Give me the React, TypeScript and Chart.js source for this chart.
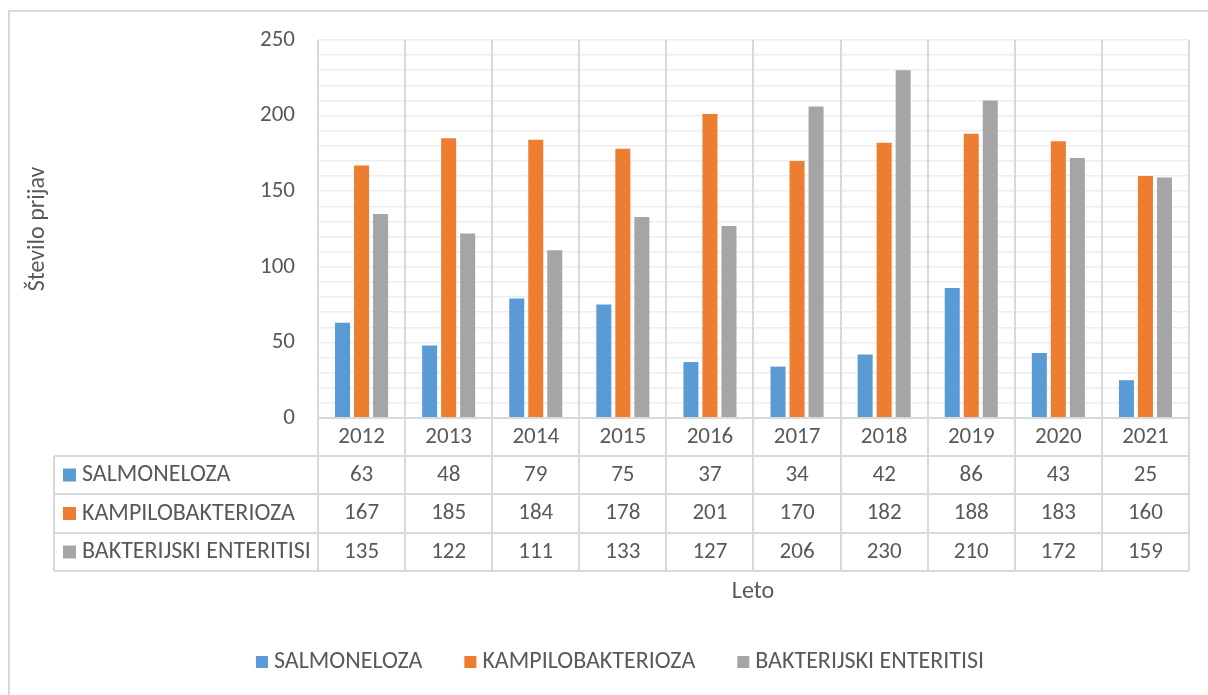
import React, { useEffect, useRef } from "react";
import { Chart, registerables } from "chart.js";

Chart.register(...registerables);

const years = ["2012", "2013", "2014", "2015", "2016", "2017", "2018", "2019", "2020", "2021"];
const salmoneloza = [63, 48, 79, 75, 37, 34, 42, 86, 43, 25];
const kampilobakterioza = [167, 185, 184, 178, 201, 170, 182, 188, 183, 160];
const bakterijski = [135, 122, 111, 133, 127, 206, 230, 210, 172, 159];
const seriesNames = ["SALMONELOZA", "KAMPILOBAKTERIOZA", "BAKTERIJSKI ENTERITISI"];
const seriesColors = ["#5b9bd5", "#ed7d31", "#a5a5a5"];
const yTitle = "Število prijav";
const xTitle = "Leto";

const FONT = "Carlito, Lato, sans-serif";
const TEXT = "#595959";
const LINE = "#d9d9d9";
const NUM_FONT = `23px ${FONT}`;
const LABEL_FONT = `24px ${FONT}`;

const tablePlugin = {
  id: "tablePlugin",
  beforeDatasetsDraw(chart: any) {
    const { ctx, chartArea, scales } = chart;
    const xs = scales.x;
    const n = years.length;
    const w = n > 1 ? xs.getPixelForValue(1) - xs.getPixelForValue(0) : chartArea.width;
    const tableBottom = 571;
    ctx.save();
    ctx.strokeStyle = LINE;
    ctx.lineWidth = 2;
    for (let i = 0; i <= n; i++) {
      const x = Math.round(xs.getPixelForValue(0) - w / 2 + i * w);
      ctx.beginPath();
      ctx.moveTo(x, chartArea.top);
      ctx.lineTo(x, tableBottom);
      ctx.stroke();
    }
    ctx.restore();
  },
  afterDraw(chart: any) {
    const { ctx, chartArea, scales } = chart;
    const xs = scales.x;
    const n = years.length;
    const w = xs.getPixelForValue(1) - xs.getPixelForValue(0);
    const left = Math.round(xs.getPixelForValue(0) - w / 2);
    const right = Math.round(xs.getPixelForValue(0) - w / 2 + n * w);
    const tableLeft = 54;
    const rowLines = [456, 494, 533, 571];
    ctx.save();
    // outer border
    ctx.strokeStyle = LINE;
    ctx.lineWidth = 2;
    ctx.beginPath();
    ctx.moveTo(9, 740);
    ctx.lineTo(9, 11);
    ctx.lineTo(1240, 11);
    ctx.stroke();
    // table horizontal lines
    rowLines.forEach((y) => {
      ctx.beginPath();
      ctx.moveTo(tableLeft, y);
      ctx.lineTo(right, y);
      ctx.stroke();
    });
    ctx.beginPath();
    ctx.moveTo(tableLeft, rowLines[0]);
    ctx.lineTo(tableLeft, rowLines[3]);
    ctx.stroke();
    // zero axis line
    ctx.beginPath();
    ctx.moveTo(left, chartArea.bottom);
    ctx.lineTo(right, chartArea.bottom);
    ctx.stroke();

    ctx.fillStyle = TEXT;
    ctx.textBaseline = "middle";
    ctx.textAlign = "center";
    // year row
    ctx.font = NUM_FONT;
    const yearY = (chartArea.bottom + rowLines[0]) / 2;
    years.forEach((yr, i) => {
      ctx.fillText(yr, xs.getPixelForValue(i), yearY);
    });
    const all = [salmoneloza, kampilobakterioza, bakterijski];
    all.forEach((vals, r) => {
      const cy = (rowLines[r] + rowLines[r + 1]) / 2;
      ctx.textAlign = "center";
      ctx.fillStyle = TEXT;
      ctx.font = NUM_FONT;
      vals.forEach((v, i) => ctx.fillText(String(v), xs.getPixelForValue(i), cy));
      ctx.fillStyle = seriesColors[r];
      ctx.fillRect(63, cy - 6.5, 13, 13);
      ctx.fillStyle = TEXT;
      ctx.textAlign = "left";
      ctx.font = LABEL_FONT;
      ctx.fillText(seriesNames[r], 82, cy);
    });
    // axis titles
    ctx.font = LABEL_FONT;
    ctx.textAlign = "center";
    ctx.fillText(xTitle, 753, 592);
    ctx.save();
    ctx.translate(38, 229);
    ctx.rotate(-Math.PI / 2);
    ctx.fillText(yTitle, 0, 0);
    ctx.restore();
    // legend
    const box = 12;
    const gapBoxText = 6;
    const gapItems = 42;
    const widths = seriesNames.map((s) => box + gapBoxText + ctx.measureText(s).width);
    const total = widths.reduce((a, b) => a + b, 0) + gapItems * (widths.length - 1);
    let lx = 620 - total / 2;
    const ly = 662;
    seriesNames.forEach((s, i) => {
      ctx.fillStyle = seriesColors[i];
      ctx.fillRect(lx, ly - box / 2, box, box);
      ctx.fillStyle = TEXT;
      ctx.textAlign = "left";
      ctx.fillText(s, lx + box + gapBoxText, ly);
      lx += widths[i] + gapItems;
    });
    ctx.restore();
  },
};

export default function App() {
  const ref = useRef<HTMLCanvasElement | null>(null);
  useEffect(() => {
    if (!ref.current) return;
    const chart = new Chart(ref.current, {
      type: "bar",
      data: {
        labels: years,
        datasets: [salmoneloza, kampilobakterioza, bakterijski].map((d, i) => ({
          label: seriesNames[i],
          data: d,
          backgroundColor: seriesColors[i],
          borderWidth: 0,
          barPercentage: 0.79,
          categoryPercentage: 0.655,
        })),
      },
      options: {
        animation: false,
        responsive: false,
        devicePixelRatio: 1,
        layout: { padding: { left: 0, top: 40, right: 19, bottom: 277 } },
        plugins: { legend: { display: false }, tooltip: { enabled: false } },
        scales: {
          x: {
            type: "category",
            offset: true,
            grid: { display: false },
            border: { display: false },
            ticks: { display: false },
            afterFit: (s: any) => {
              s.height = 0;
            },
          },
          y: {
            min: 0,
            max: 250,
            border: { display: false },
            grid: {
              drawTicks: false,
              lineWidth: 1.5,
              color: (c: any) => (c.tick && c.tick.value === 0 ? LINE : "#ededed"),
            },
            ticks: {
              stepSize: 10,
              autoSkip: false,
              padding: 23,
              color: TEXT,
              font: { family: FONT, size: 23 },
              callback: (v: any) => (Number(v) % 50 === 0 ? String(v) : ""),
            },
            afterFit: (s: any) => {
              s.width = 318;
            },
          },
        },
      },
      plugins: [tablePlugin],
    });
    return () => chart.destroy();
  }, []);
  return (
    <div style={{ position: "fixed", left: 0, top: 0, width: 1208, height: 695, background: "#fff" }}>
      <canvas ref={ref} width={1208} height={695} />
    </div>
  );
}
